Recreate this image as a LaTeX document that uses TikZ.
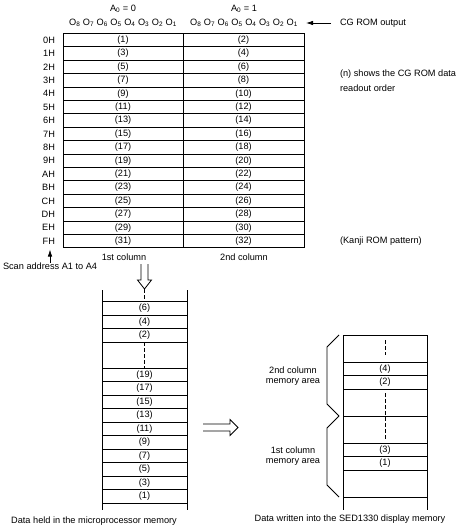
\documentclass[tikz,border=0pt]{standalone}
\usepackage{fontspec}
\setmainfont{Liberation Sans}
\usetikzlibrary{arrows.meta}
\newcommand\ohdr{O\textsubscript{8} O\textsubscript{7} O\textsubscript{6} O\textsubscript{5} O\textsubscript{4} O\textsubscript{3} O\textsubscript{2} O\textsubscript{1}}
\begin{document}
\begin{tikzpicture}[x=1pt,y=-1pt,font=\fontsize{9.2}{11}\selectfont,
  ln/.style={line width=0.8pt},
  cell/.style={draw,line width=0.8pt,minimum height=13.4pt,inner sep=0pt,outer sep=0pt},
  scell/.style={draw,line width=0.8pt,minimum width=85pt,minimum height=13.5pt,inner sep=0pt,outer sep=0pt},
  rcell/.style={draw,line width=0.8pt,minimum width=84pt,minimum height=13.5pt,inner sep=0pt,outer sep=0pt},
  txt/.style={inner sep=0pt,outer sep=0pt},
  arr/.style={line width=0.8pt,-{Latex[length=7pt,width=4.5pt]}},
  dsh/.style={line width=0.8pt,dash pattern=on 3.5pt off 2.5pt}]
\useasboundingbox[fill=white] (0,0) rectangle (461,532);

% header
\node[txt] (a0) at (123,9) {A\textsubscript{0} = 0};
\node[txt] (a1) at (244,9) {A\textsubscript{0} = 1};
\node[txt] (h0) at (123,23) {\ohdr};
\node[txt] (h1) at (244,23) {\ohdr};
\node[txt,anchor=west] (cg) at (340,23) {CG ROM output};
\coordinate (cgtip) at (306,23);
\draw[arr] ([xshift=-9pt]cg.west) -- (cgtip);

% table
\foreach \lab [count=\n from 0, evaluate=\n as \y using 40.1+13.4*\n, evaluate=\n as \a using int(2*\n+1), evaluate=\n as \b using int(2*\n+2)] in {0H,1H,2H,3H,4H,5H,6H,7H,8H,9H,AH,BH,CH,DH,EH,FH} {
  \node[cell,minimum width=120pt] (p\n) at (123,\y) {(\a)};
  \node[cell,minimum width=121pt] (q\n) at (243.5,\y) {(\b)};
  \node[txt,anchor=east] (r\n) at ([xshift=-8pt]p\n.west) {\lab};
}
\node[txt] (col1) at (124,257) {1st column};
\node[txt] (col2) at (244,257) {2nd column};
\node[txt,anchor=west] (n1) at (340,74) {(n) shows the CG ROM data};
\node[txt,anchor=west] (n2) at (340,88) {readout order};
\node[txt,anchor=west] (kanji) at (340,241) {(Kanji ROM pattern)};

% scan address
\node[txt,anchor=west] (scan) at (3,266) {Scan address A1 to A4};
\coordinate (scantip) at (50,249.5);
\draw[arr] (scantip |- scan.north) -- (scantip);

% down double arrow
\coordinate (dtip) at (144.5,289);
\draw[ln,line join=miter] (141,264) -- (141,280) -- (137.5,280) -- (dtip) -- (151.5,280) -- (148,280) -- (148,264);

% left stack
\foreach \v [count=\n from 0, evaluate=\n as \y using 308.25+13.5*\n] in {6,4,2} {
  \node[scell] (l\v) at (144.5,\y) {(\v)};
}
\foreach \v [count=\n from 0, evaluate=\n as \y using 374.75+13.5*\n] in {19,17,15,13,11,9,7,5,3,1} {
  \node[scell] (l\v) at (144.5,\y) {(\v)};
}
\coordinate (lsa) at (102,290); \coordinate (lsb) at (102,510);
\coordinate (lsc) at (187,290); \coordinate (lsd) at (187,510);
\draw[ln] (lsa) -- (lsb);
\draw[ln] (lsc) -- (lsd);
\draw[dsh] (dtip) -- (l6.north);
\draw[dsh] (l2.south) -- (l19.north);

% horizontal double arrow
\coordinate (htip) at (238,427.5);
\draw[ln,line join=miter] (203,424) -- (230,424) -- (230,419.5) -- (htip) -- (230,435.5) -- (230,431) -- (203,431);

% right stack
\node[rcell,minimum height=27pt] (rA) at (385,348.5) {};
\node[rcell] (r4) at (385,368.75) {(4)};
\node[rcell] (r2) at (385,382.25) {(2)};
\node[rcell,minimum height=27pt] (rB) at (385,402.5) {};
\node[rcell,minimum height=27pt] (rC) at (385,429.5) {};
\node[rcell] (r3) at (385,449.75) {(3)};
\node[rcell] (r1) at (385,463.25) {(1)};
\node[rcell,minimum height=27pt] (rD) at (385,483.5) {};
\coordinate (rsa) at (343,497); \coordinate (rsb) at (343,510);
\coordinate (rsc) at (427,497); \coordinate (rsd) at (427,510);
\draw[ln] (rsa) -- (rsb);
\draw[ln] (rsc) -- (rsd);
\draw[dsh,shorten <=5pt,shorten >=7pt] (rA.north) -- (rA.south);
\draw[dsh,shorten <=4pt,shorten >=3pt] (rB.north) -- (rC.south);

% braces
\draw[ln] (339,335) -- (327,347) -- (327,404) -- (339,416);
\draw[ln] (339,416) -- (327,428) -- (327,485) -- (339,497);
\node[txt] (m2a) at (293,370) {2nd column};
\node[txt] (m2b) at (293,382) {memory area};
\node[txt] (m1a) at (293,450) {1st column};
\node[txt] (m1b) at (293,462) {memory area};

% captions
\node[txt] (capL) at (94,521) {Data held in the microprocessor memory};
\node[txt] (capR) at (350,519) {Data written into the SED1330 display memory};
\end{tikzpicture}
\end{document}
